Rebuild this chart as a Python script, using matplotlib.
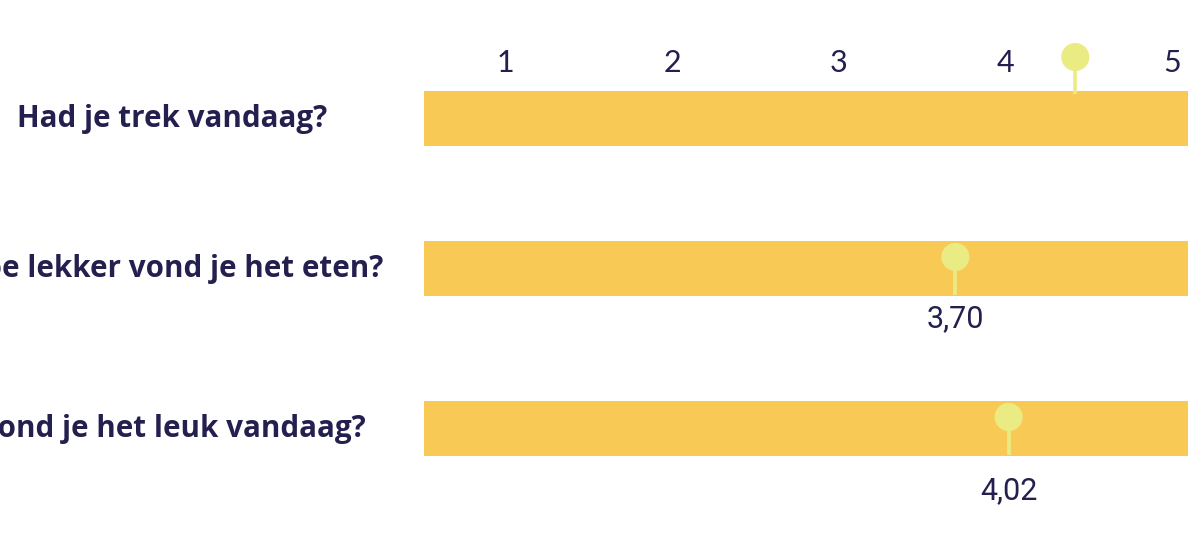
import matplotlib
matplotlib.use("Agg")
import matplotlib.pyplot as plt
from matplotlib.transforms import blended_transform_factory

# data
questions = ["Had je trek vandaag?", "Hoe lekker vond je het eten?", "Vond je het leuk vandaag?"]
scores = [4.42, 3.70, 4.02]
score_labels = ["", "3,70", "4,02"]
scale_ticks = [1, 2, 3, 4, 5]

# layout (pixels, y grows downward)
W, H = 1188, 533
bar_top = [91, 241, 401]
bar_h = 55
px_per_unit = 166.6
x_one = 505.5
axes_left = 424

navy = "#231f4f"
bar_color = "#f8c954"
pin_color = "#ebeb84"


def px_to_val(px):
    return 1 + (px - x_one) / px_per_unit


fig = plt.figure(figsize=(W / 100, H / 100), dpi=100)
ax = fig.add_axes([axes_left / W, 0, 1 - axes_left / W, 1])
ax.set_xlim(px_to_val(axes_left), px_to_val(W))
ax.set_ylim(H, 0)
ax.axis("off")

x0 = px_to_val(axes_left)
trans = blended_transform_factory(fig.transFigure, ax.transData)
for i, (q, v, lab) in enumerate(zip(questions, scores, score_labels)):
    top = bar_top[i]
    ax.barh(top + bar_h / 2, 6 - x0, left=x0, height=bar_h, color=bar_color, zorder=1)
    if i == 0:
        cy, stem_end = top - 34, top + 3
    else:
        cy, stem_end = top + 16, top + bar_h - 1
    ax.vlines(v, cy, stem_end, color=pin_color, lw=2.6, zorder=2)
    ax.scatter([v], [cy], s=410, color=pin_color, edgecolors="none", zorder=3)
    if lab:
        base = top + bar_h + (31 if i == 1 else 43)
        ax.text(v, base, lab, ha="center", va="baseline", fontsize=22,
                family="Roboto", color=navy)

    ax.text(172 / W, top + bar_h / 2 + 9, q, transform=trans, ha="center", va="baseline",
            fontsize=21.3, family="Open Sans", weight="bold", color=navy, clip_on=False)

for t in scale_ticks:
    ax.text(t, 72, str(t), ha="center", va="baseline", fontsize=22,
            family="Lato", weight="normal", color=navy)

fig.savefig("out.png", dpi=100)
